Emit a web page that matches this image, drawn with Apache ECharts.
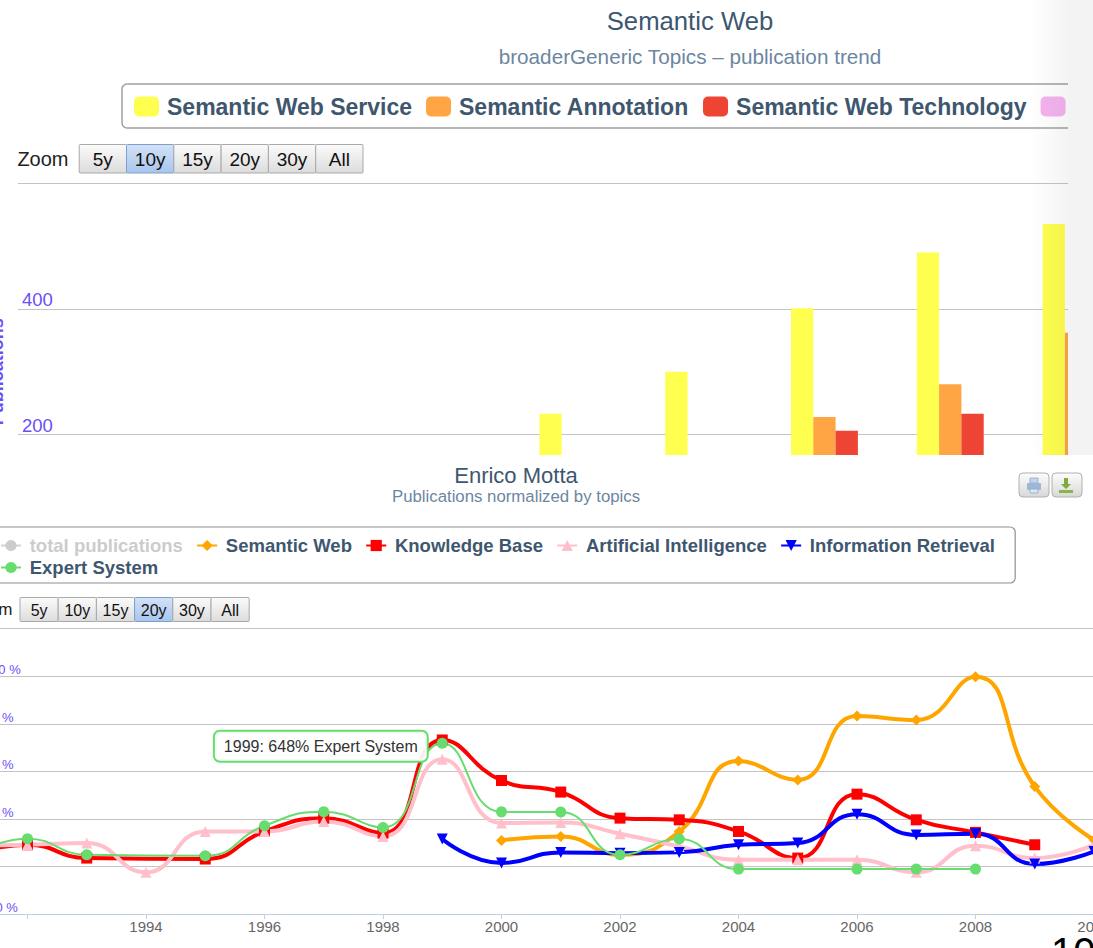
<!DOCTYPE html>
<html>
<head>
<meta charset="utf-8">
<script src="https://cdn.jsdelivr.net/npm/echarts@6/dist/echarts.min.js"></script>
<style>
html,body{margin:0;padding:0;background:#fff;width:1093px;height:948px;overflow:hidden;}
#topWrap{position:absolute;left:0;top:0;width:1068px;height:455px;overflow:hidden;}
#topChart{position:absolute;left:0;top:0;width:1380px;height:600px;}
#shade{position:absolute;left:1030px;top:0;width:38px;height:455px;pointer-events:none;
  background:linear-gradient(to right, rgba(0,0,0,0), rgba(0,0,0,0.045));}
#strip{position:absolute;left:1068px;top:0;width:25px;height:455px;background:#f3f3f3;}
#botWrap{position:absolute;left:0;top:455px;width:1093px;height:493px;overflow:hidden;}
#botChart{position:absolute;left:-200px;top:0;width:1432px;height:493px;}
</style>
</head>
<body>
<div id="topWrap"><div id="topChart"></div><div id="shade"></div></div>
<div id="strip"></div>
<div id="botWrap"><div id="botChart"></div></div>
<script>
// ---------- data: top chart (publication trend) ----------
const topCategories = ['2001','2002','2003','2004','2005','2006','2007','2008','2009'];
const semanticWebService    = [null, null, null, null, 233, 300, 401, 490, 535];
const semanticAnnotation    = [null, null, null, null, null, null, 228, 280, 362];
const semanticWebTechnology = [null, null, null, null, null, null, 206, 233, null];
const ontologyValues        = [null, null, null, null, null, null, null, null, null];
const topSeriesNames = ['Semantic Web Service', 'Semantic Annotation', 'Semantic Web Technology', 'Ontology'];

// ---------- data: bottom chart (normalized by topics, %) ----------
const totalPublications = [];
const semanticWeb = [[2000,137],[2001,158],[2002,61],[2003,184],[2004,555],[2005,455],[2006,791],[2007,770],[2008,998],[2009,420],[2010,140]];
const knowledgeBase = [[1991,60],[1992,114],[1993,44],[1995,39],[1996,184],[1997,254],[1998,175],[1999,665],[2000,452],[2001,391],[2002,254],[2003,245],[2004,184],[2005,44],[2006,380],[2007,245],[2008,179],[2009,114]];
const artificialIntelligence = [[1991,110],[1992,114],[1993,123],[1994,-31],[1995,184],[1996,184],[1997,236],[1998,158],[1999,564],[2000,228],[2001,231],[2002,172],[2003,105],[2004,35],[2005,35],[2006,35],[2007,-31],[2008,109],[2009,44],[2010,114]];
const informationRetrieval = [[1999,144],[2000,18],[2001,74],[2002,70],[2003,74],[2004,114],[2005,123],[2006,275],[2007,166],[2008,172],[2009,13],[2010,79]];
const expertSystem = [[1991,50],[1992,146],[1993,61],[1995,56],[1996,214],[1997,288],[1998,205],[1999,648],[2000,287],[2001,286],[2002,61],[2003,144],[2004,-14],[2006,-14],[2007,-14],[2008,-14]];
const tooltipYear = 1999;

const zoomButtons = ['5y', '10y', '15y', '20y', '30y', 'All'];

// ---------- styles ----------
const FONT = '"Liberation Sans", Arial, sans-serif';
const TITLE_C = '#3E576F', SUB_C = '#6D869F', AXIS_C = '#6B4FF6';

function txt(text, x, y, size, color, align, weight) {
  return {type:'text', silent:true, style:{text:text, x:x, y:y, fill:color,
    font:(weight||'normal') + ' ' + size + 'px ' + FONT,
    align:align||'center', textAlign:align||'center', verticalAlign:'middle', textVerticalAlign:'middle'}};
}
function zoomGraphic(labelX, labelAlign, cy, x0, y0, w, h, fs, sel) {
  const els = [txt('Zoom', labelX, cy, fs + 1, '#222', labelAlign)];
  zoomButtons.forEach(function (b, i) {
    const s = i === sel;
    els.push({type:'rect', silent:true, shape:{x:x0 + i*w + 0.5, y:y0 + 0.5, width:w, height:h, r:1},
      style:{fill:new echarts.graphic.LinearGradient(0,0,0,1, s ?
        [{offset:0,color:'#d3e2f7'},{offset:1,color:'#a9c5ec'}] :
        [{offset:0,color:'#fbfbfb'},{offset:1,color:'#dcdcdc'}]),
        stroke: s ? '#7c9fd0' : '#a9a9a9', lineWidth:1}});
    els.push(txt(b, x0 + i*w + w/2 + 0.5, y0 + h/2 + 1, fs, '#111', 'center'));
  });
  return els;
}

// ---------- top chart ----------
const topChart = echarts.init(document.getElementById('topChart'), null, {renderer:'svg'});
const barColors = ['#FFFF50', '#FFA544', '#EE4433', '#F5B3F0'];
const topData = [semanticWebService, semanticAnnotation, semanticWebTechnology, ontologyValues];
topChart.setOption({
  animation:false,
  textStyle:{fontFamily:FONT},
  title:{text:'Semantic Web', subtext:'broaderGeneric Topics \u2013 publication trend', left:'center', top:3, itemGap:12,
    textStyle:{fontFamily:FONT, fontSize:25.7, fontWeight:'normal', color:TITLE_C},
    subtextStyle:{fontFamily:FONT, fontSize:20.7, color:SUB_C}},
  legend:{left:122, top:84, padding:[11,12,10,12], itemWidth:25, itemHeight:20, itemGap:14,
    icon:'roundRect', borderColor:'#a0a0a0', borderWidth:1.5, borderRadius:5,
    textStyle:{fontFamily:FONT, fontSize:23, fontWeight:'bold', color:TITLE_C, padding:[0,0,0,3]},
    data:topSeriesNames},
  grid:{left:17.9, top:183.3, width:1132.2, height:376.8, outerBoundsMode:'none'},
  xAxis:{type:'category', data:topCategories, axisTick:{show:false},
    axisLine:{lineStyle:{color:'#C0D0E0'}}, axisLabel:{color:'#666', fontSize:15}},
  yAxis:{type:'value', min:0, max:600, interval:200,
    name:'Publications', nameLocation:'middle', nameRotate:90, nameGap:12,
    nameTextStyle:{fontFamily:FONT, fontSize:18, fontWeight:'bold', color:AXIS_C},
    axisLine:{show:false}, axisTick:{show:false},
    axisLabel:{inside:true, margin:4, verticalAlign:'bottom', showMaxLabel:false, color:AXIS_C, fontSize:18.5, fontFamily:FONT},
    splitLine:{lineStyle:{color:'#C4C4C4', width:1}}},
  series: topSeriesNames.map(function (n, i) {
    return {name:n, type:'bar', data:topData[i], barWidth:22.3, barGap:'0%', itemStyle:{color:barColors[i]}};
  }),
  graphic: zoomGraphic(17.4, 'left', 158.5, 78.7, 144, 47.3, 28.5, 19, 1)
});

// ---------- bottom chart ----------
// inner coords: screen x + 200, screen y - 455
const botChart = echarts.init(document.getElementById('botChart'), null, {renderer:'svg'});
function lineSeries(name, data, color, symbol, size, width, extra) {
  return Object.assign({name:name, type:'line', data:data, smooth:0.5, symbol:symbol, symbolSize:size,
    showAllSymbol:true, color:color, itemStyle:{color:color}, lineStyle:{color:color, width:width}}, extra || {});
}
const esData = expertSystem.map(function (p) {
  if (p[0] !== tooltipYear) return p;
  return {value:p, label:{show:true, position:'left', distance:10, offset:[0,3],
    formatter: p[0] + ': ' + p[1] + '% Expert System',
    fontFamily:FONT, fontSize:16, color:'#333', backgroundColor:'rgba(255,255,255,0.92)',
    borderColor:'#66DD6E', borderWidth:2, borderRadius:5, padding:[7,9,6,9]}};
});
const exportBtns = [];
[1019, 1052].forEach(function (sx) {
  exportBtns.push({type:'rect', silent:true, shape:{x:sx+200, y:18, width:30, height:24, r:4},
    style:{fill:new echarts.graphic.LinearGradient(0,0,0,1,[{offset:0,color:'#fdfdfd'},{offset:1,color:'#d8d8d8'}]), stroke:'#b0b0b0', lineWidth:1}});
});
exportBtns.push({type:'rect', silent:true, shape:{x:1230, y:23, width:8, height:5}, style:{fill:'#c5d6ea', stroke:'#8fa9c6', lineWidth:0.8}});
exportBtns.push({type:'rect', silent:true, shape:{x:1227, y:28, width:14, height:7, r:1}, style:{fill:'#9db8d6'}});
exportBtns.push({type:'rect', silent:true, shape:{x:1230, y:34, width:8, height:4}, style:{fill:'#dde7f2', stroke:'#8fa9c6', lineWidth:0.8}});
exportBtns.push({type:'polygon', silent:true, shape:{points:[[1264,23],[1268,23],[1268,29],[1271,29],[1266,34],[1261,29],[1264,29]]}, style:{fill:'#7faa3c'}});
exportBtns.push({type:'rect', silent:true, shape:{x:1259, y:35, width:14, height:3}, style:{fill:'#8cb64a'}});
exportBtns.push(txt('10', 1251, 497, 40, '#000', 'left'));

botChart.setOption({
  animation:false,
  textStyle:{fontFamily:FONT},
  title:{text:'Enrico Motta', subtext:'Publications normalized by topics', left:'center', top:4, itemGap:2,
    textStyle:{fontFamily:FONT, fontSize:22, fontWeight:'normal', color:TITLE_C},
    subtextStyle:{fontFamily:FONT, fontSize:16.8, color:SUB_C}},
  legend:{left:188, top:72, padding:[9,10,6,12], itemWidth:20, itemHeight:14, itemGap:3,
    borderColor:'#909090', borderWidth:1.2, borderRadius:5, inactiveColor:'#CCCCCC',
    selected:{'total publications':false},
    formatter:function (name) { return '\u2009' + name + '  '; },
    textStyle:{fontFamily:FONT, fontSize:18.5, fontWeight:'bold', color:TITLE_C},
    data:['total publications','Semantic Web','Knowledge Base','Artificial Intelligence','Information Retrieval','\n','Expert System']},
  grid:{left:109, top:173.7, width:1303.5, height:285.3, outerBoundsMode:'none'},
  xAxis:{type:'value', min:1990, max:2012, interval:2,
    axisLine:{onZero:false, lineStyle:{color:'#C0D0E0', width:1}}, axisTick:{show:true, length:5, lineStyle:{color:'#C0D0E0'}},
    splitLine:{show:false},
    axisLabel:{margin:5, color:'#666', fontSize:15, fontFamily:FONT,
      formatter:function (v) { return v < 1994 ? '' : String(v); }}},
  yAxis:{type:'value', min:-250, max:1250, interval:250, offset:-59.6,
    axisLine:{show:false}, axisTick:{show:false},
    axisLabel:{inside:true, margin:8, verticalAlign:'bottom', showMaxLabel:false, color:AXIS_C, fontSize:13, fontFamily:FONT,
      formatter:function (v) { return v + ' %'; }},
    splitLine:{lineStyle:{color:'#C4C4C4', width:1}}},
  series:[
    lineSeries('total publications', totalPublications, '#AAAAAA', 'circle', 9, 2),
    lineSeries('Semantic Web', semanticWeb, '#FFA500', 'diamond', 11, 4),
    lineSeries('Knowledge Base', knowledgeBase, '#FF0000', 'rect', 11, 4),
    lineSeries('Artificial Intelligence', artificialIntelligence, '#FFC0CB', 'triangle', 11, 4),
    lineSeries('Information Retrieval', informationRetrieval, '#0000FF', 'triangle', 11, 4, {symbolRotate:180}),
    lineSeries('Expert System', esData, '#66DD6E', 'circle', 11, 2)
  ],
  graphic: zoomGraphic(212.5, 'right', 154, 219.5, 142, 38.2, 24, 16, 3).concat(exportBtns)
});
</script>
</body>
</html>
